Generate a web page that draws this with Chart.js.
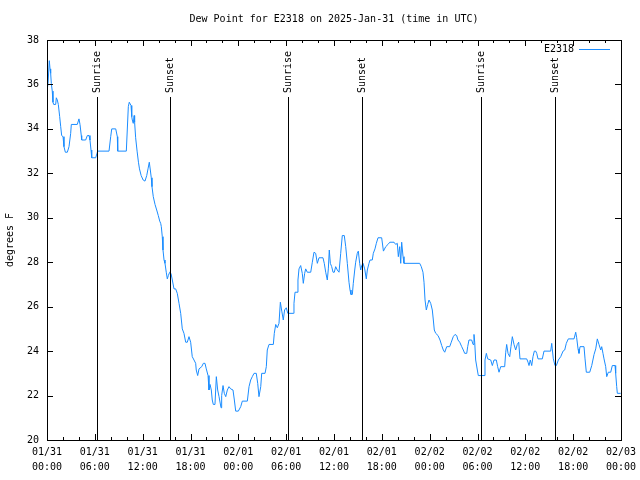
<!DOCTYPE html>
<html>
<head>
<meta charset="utf-8">
<script src="https://cdn.jsdelivr.net/npm/chart.js@4/dist/chart.umd.min.js"></script>
<style>
  body { margin: 0; background: #fff; }
  #wrap { width: 640px; height: 480px; }
</style>
</head>
<body>
<div id="wrap"><canvas id="dewChart" width="640" height="480"></canvas></div>
<script>
// hours since 01/31 00:00 UTC
const hours = [
  0.04, 0.13, 0.29, 0.38, 0.46, 0.54, 0.66, 0.75, 0.84, 1.09, 1.17, 1.29, 1.42, 1.59, 1.72, 1.84,
  2.01, 2.13, 2.30, 2.55, 2.76, 2.97, 3.05, 3.80, 4.01, 4.14, 4.30, 4.35, 4.85, 5.06, 5.27, 5.39,
  5.52, 5.61, 6.11, 6.27, 6.36, 7.78, 7.99, 8.12, 8.62, 8.82, 8.87, 9.95, 10.07, 10.20, 10.32, 10.54,
  10.63, 10.70, 10.82, 10.93, 10.99, 11.12, 11.30, 11.47, 11.60, 11.81, 12.06, 12.29, 12.51, 12.67,
  12.83, 12.96, 13.08, 13.17, 13.33, 13.55, 13.76, 13.96, 14.14, 14.26, 14.34, 14.46, 14.55, 14.68,
  14.80, 14.96, 15.09, 15.22, 15.39, 15.55, 15.72, 15.93, 16.14, 16.34, 16.56, 16.77, 16.97, 17.18,
  17.40, 17.60, 17.81, 18.02, 18.22, 18.44, 18.65, 18.72, 18.90, 19.07, 19.41, 19.61, 19.82, 19.98,
  20.20, 20.32, 20.45, 20.61, 20.73, 20.86, 21.07, 21.24, 21.41, 21.58, 21.83, 21.91, 22.08, 22.24,
  22.42, 22.62, 22.83, 23.04, 23.33, 23.50, 23.67, 24.00, 24.30, 24.50, 25.13, 25.34, 25.55, 25.75,
  25.97, 26.25, 26.43, 26.59, 26.81, 26.93, 27.35, 27.51, 27.63, 27.85, 28.39, 28.51, 28.69, 28.89,
  29.10, 29.27, 29.45, 29.64, 29.80, 30.02, 30.20, 30.89, 30.98, 31.11, 31.36, 31.48, 31.61, 31.82,
  32.02, 32.15, 32.32, 32.45, 32.65, 33.08, 33.28, 33.49, 33.70, 33.91, 34.12, 34.62, 34.78, 34.96,
  35.16, 35.29, 35.41, 35.54, 35.71, 35.88, 36.04, 36.21, 36.41, 36.63, 36.84, 37.04, 37.29, 37.47,
  37.67, 37.88, 38.01, 38.13, 38.30, 38.42, 38.60, 38.72, 38.92, 39.05, 39.22, 39.35, 39.48, 39.64,
  39.85, 40.05, 40.18, 40.39, 40.52, 40.80, 40.93, 41.14, 41.31, 41.52, 41.98, 42.20, 42.49, 42.77,
  43.00, 43.53, 43.74, 43.94, 44.07, 44.24, 44.37, 44.49, 44.66, 44.78, 46.75, 46.95, 47.16, 47.29,
  47.42, 47.58, 47.75, 47.92, 48.13, 48.33, 48.46, 48.58, 48.76, 49.05, 49.30, 49.51, 49.71, 49.89,
  50.14, 50.51, 50.71, 50.96, 51.18, 51.39, 51.55, 51.77, 52.02, 52.22, 52.39, 52.65, 52.77, 52.93,
  53.27, 53.44, 53.56, 53.65, 53.77, 53.98, 54.10, 54.82, 54.94, 55.11, 55.28, 55.66, 55.86, 56.07,
  56.36, 56.53, 56.70, 56.91, 57.41, 57.54, 57.66, 57.83, 58.04, 58.20, 58.37, 58.58, 58.79, 58.99,
  59.17, 59.33, 60.17, 60.34, 60.46, 60.62, 60.80, 60.96, 61.13, 61.30, 61.43, 61.59, 62.13, 62.34,
  63.18, 63.31, 63.38, 63.51, 63.72, 63.89, 64.14, 64.44, 64.73, 64.94, 65.14, 65.39, 66.11, 66.32,
  66.44, 66.61, 66.73, 66.86, 67.36, 67.49, 67.65, 68.08, 68.33, 68.62, 68.83, 69.03, 69.24, 69.46,
  69.58, 69.74, 69.87, 70.08, 70.21, 70.41, 70.71, 70.91, 71.25, 71.33, 71.46, 71.54, 71.96
];

// dew point, degrees F
const dewPoint = [
  35.8, 36.05, 37.07, 36.7, 36.5, 36.05, 35.7, 35.2, 35.1, 35.1, 35.4, 35.3, 35.1, 34.55, 34.1, 33.7,
  33.65, 33.2, 32.95, 32.95, 33.2, 33.8, 34.2, 34.2, 34.45, 34.2, 33.7, 33.5, 33.5, 33.7, 33.7, 33.5,
  33.05, 32.7, 32.7, 32.9, 33.0, 33.0, 33.65, 34.0, 34.0, 33.65, 33.0, 33.0, 33.95, 35.0, 35.2, 35.05,
  34.55, 34.4, 34.25, 34.6, 34.3, 33.6, 33.0, 32.5, 32.2, 31.9, 31.7, 31.65, 31.9, 32.2,
  32.5, 32.15, 31.8, 31.4, 30.95, 30.6, 30.35, 30.1, 29.85, 29.75, 29.6, 29.15, 28.55, 28.1,
  27.95, 27.55, 27.25, 27.4, 27.55, 27.5, 27.2, 26.8, 26.8, 26.6, 26.15, 25.7, 25.0, 24.8,
  24.4, 24.4, 24.65, 24.4, 23.75, 23.6, 23.45, 23.15, 22.9, 23.2, 23.3, 23.45, 23.45, 23.2,
  22.9, 22.25, 22.5, 22.25, 21.8, 21.6, 21.6, 22.85, 22.25, 21.95, 21.45, 22.0, 22.45, 22.1,
  21.95, 22.25, 22.4, 22.3, 22.25, 21.8, 21.3, 21.3, 21.5, 21.75, 21.75, 22.4, 22.7, 22.85,
  23.0, 23.0, 22.55, 21.95, 22.4, 23.0, 23.0, 23.3, 24.05, 24.3, 24.3, 24.8, 25.2, 25.05,
  25.25, 26.2, 25.8, 25.4, 25.85, 25.95, 25.7, 25.7, 26.15, 26.65, 26.65, 27.2, 27.7, 27.85,
  27.5, 27.05, 27.5, 27.7, 27.55, 27.55, 28.0, 28.45, 28.4, 27.95, 28.2, 28.2, 27.95, 27.55,
  27.2, 27.7, 28.55, 27.95, 27.8, 27.55, 27.55, 27.8, 27.65, 27.55, 28.4, 29.2, 29.2, 28.7,
  27.95, 27.1, 26.75, 26.55, 26.55, 27.05, 27.65, 28.0, 28.4, 28.5, 27.95, 27.65, 27.85, 27.95,
  27.7, 27.25, 27.65, 27.95, 28.1, 28.1, 28.4, 28.6, 28.85, 29.1, 29.1, 28.5, 28.7, 28.8,
  28.9, 28.9, 28.8, 28.85, 28.25, 28.7, 27.95, 28.9, 28.25, 27.95, 27.95, 27.8, 27.55, 27.1,
  26.3, 25.85, 26.1, 26.3, 26.15, 25.85, 25.4, 24.95, 24.8, 24.7, 24.5, 24.25, 24.05, 23.95,
  24.2, 24.2, 24.4, 24.65, 24.75, 24.7, 24.5, 24.4, 24.2, 24.05, 23.9, 23.9, 24.2, 24.5,
  24.5, 24.3, 24.75, 24.4, 23.6, 23.15, 22.9, 22.9, 23.6, 23.9, 23.65, 23.6, 23.35, 23.6,
  23.6, 23.3, 23.05, 23.3, 23.3, 23.95, 24.3, 23.9, 23.75, 24.2, 24.65, 24.3, 24.05, 24.3,
  24.4, 23.65, 23.65, 23.5, 23.35, 23.6, 23.35, 23.75, 24.0, 24.0, 23.9, 23.65, 23.65, 24.0,
  24.0, 24.35, 24.1, 23.65, 23.35, 23.35, 23.6, 23.75, 24.0, 24.05, 24.35, 24.55, 24.55, 24.85,
  24.6, 24.1, 23.9, 24.2, 24.2, 23.65, 23.05, 23.05, 23.35, 23.85, 24.1, 24.55, 24.3, 24.05,
  24.2, 23.9, 23.65, 23.3, 22.85, 23.05, 23.05, 23.35, 23.35, 23.0, 22.4, 22.1, 22.1
];

// sunrise / sunset markers (hours since start)
const sunLabels = ['Sunrise', 'Sunset', 'Sunrise', 'Sunset', 'Sunrise', 'Sunset'];
const sunHours  = [6.31, 15.47, 30.27, 39.55, 54.40, 63.69];

// x tick labels every 6 hours
const tickDays  = ['01/31', '01/31', '01/31', '01/31', '02/01', '02/01', '02/01', '02/01',
                   '02/02', '02/02', '02/02', '02/02', '02/03'];
const tickTimes = ['00:00', '06:00', '12:00', '18:00', '00:00', '06:00', '12:00', '18:00',
                   '00:00', '06:00', '12:00', '18:00', '00:00'];

const FONT = { family: 'DejaVu Sans Mono', size: 10 };
const LINE_BLUE = '#1a8cff';

// ---- frame, inward ticks, sun lines, legend (gnuplot look) ----
const gnuplotDecor = {
    id: 'gnuplotDecor',
    afterDatasetsDraw(chart) {
        const { ctx, chartArea: a, scales: { x, y } } = chart;
        ctx.save();
        ctx.strokeStyle = '#000';
        ctx.lineWidth = 1;

        // sunrise / sunset lines + labels
        ctx.fillStyle = '#000';
        ctx.font = `${FONT.size}px ${FONT.family}`;
        sunHours.forEach((h, i) => {
            const px = Math.round(x.getPixelForValue(h)) + 0.5;
            ctx.beginPath();
            ctx.moveTo(px, a.bottom);
            ctx.lineTo(px, a.top + 57);
            ctx.stroke();
            ctx.save();
            ctx.translate(px, a.top + 53);
            ctx.rotate(-Math.PI / 2);
            ctx.textAlign = 'left';
            ctx.textBaseline = 'middle';
            ctx.fillText(sunLabels[i], 0, 0);
            ctx.restore();
        });

        // frame
        ctx.strokeRect(Math.round(a.left) + 0.5, Math.round(a.top) + 0.5,
                       Math.round(a.width), Math.round(a.height));

        // x ticks: major every 6h, minor every 2h
        for (let h = 0; h <= 72; h += 2) {
            const px = Math.round(x.getPixelForValue(h)) + 0.5;
            const len = h % 6 === 0 ? 6 : 3;
            ctx.beginPath();
            ctx.moveTo(px, a.bottom); ctx.lineTo(px, a.bottom - len);
            ctx.moveTo(px, a.top);    ctx.lineTo(px, a.top + len);
            ctx.stroke();
        }
        // y ticks
        for (let v = 20; v <= 38; v += 2) {
            const py = Math.round(y.getPixelForValue(v)) + 0.5;
            ctx.beginPath();
            ctx.moveTo(a.left, py);  ctx.lineTo(a.left + 6, py);
            ctx.moveTo(a.right, py); ctx.lineTo(a.right - 6, py);
            ctx.stroke();
        }

        // key
        const ky = a.top + 9.5;
        ctx.textAlign = 'right';
        ctx.textBaseline = 'middle';
        ctx.fillText(chart.data.datasets[0].label, a.right - 47, ky);
        ctx.strokeStyle = LINE_BLUE;
        ctx.beginPath();
        ctx.moveTo(a.right - 42, ky);
        ctx.lineTo(a.right - 11, ky);
        ctx.stroke();
        ctx.restore();
    }
};

new Chart(document.getElementById('dewChart'), {
    type: 'line',
    data: {
        datasets: [{
            label: 'E2318',
            data: hours.map((h, i) => ({ x: h, y: dewPoint[i] })),
            borderColor: LINE_BLUE,
            borderWidth: 1,
            pointRadius: 0,
            tension: 0,
            fill: false,
        }]
    },
    options: {
        responsive: false,
        animation: false,
        layout: { padding: { left: 0, right: 19, top: 0, bottom: 0 } },
        plugins: {
            legend: { display: false },
            tooltip: { enabled: false },
            title: {
                display: true,
                fullSize: false,
                text: 'Dew Point for E2318 on 2025-Jan-31 (time in UTC)',
                color: '#000',
                font: { ...FONT, weight: 'normal' },
                padding: { top: 13, bottom: 15 }
            }
        },
        scales: {
            x: {
                type: 'linear',
                min: 0,
                max: 72,
                afterFit: s => { s.height = 40; s.paddingRight = 0; s.paddingLeft = 0; },
                afterBuildTicks: s => {
                    s.ticks = tickDays.map((d, i) => ({ value: i * 6 }));
                },
                grid: { display: false, drawTicks: false, tickLength: 0 },
                border: { display: false },
                ticks: {
                    color: '#000',
                    font: { ...FONT, lineHeight: 1.5 },
                    padding: 5,
                    maxRotation: 0,
                    autoSkip: false,
                    callback: (v) => [tickDays[v / 6], tickTimes[v / 6]]
                }
            },
            y: {
                min: 20,
                max: 38,
                afterFit: s => { s.width = 47; },
                grid: { display: false, drawTicks: false, tickLength: 0 },
                border: { display: false },
                title: {
                    display: true,
                    text: 'degrees F',
                    color: '#000',
                    font: FONT,
                    padding: { top: 4, bottom: 0 }
                },
                ticks: {
                    stepSize: 2,
                    color: '#000',
                    font: FONT,
                    padding: 8
                }
            }
        }
    },
    plugins: [gnuplotDecor]
});
</script>
</body>
</html>
